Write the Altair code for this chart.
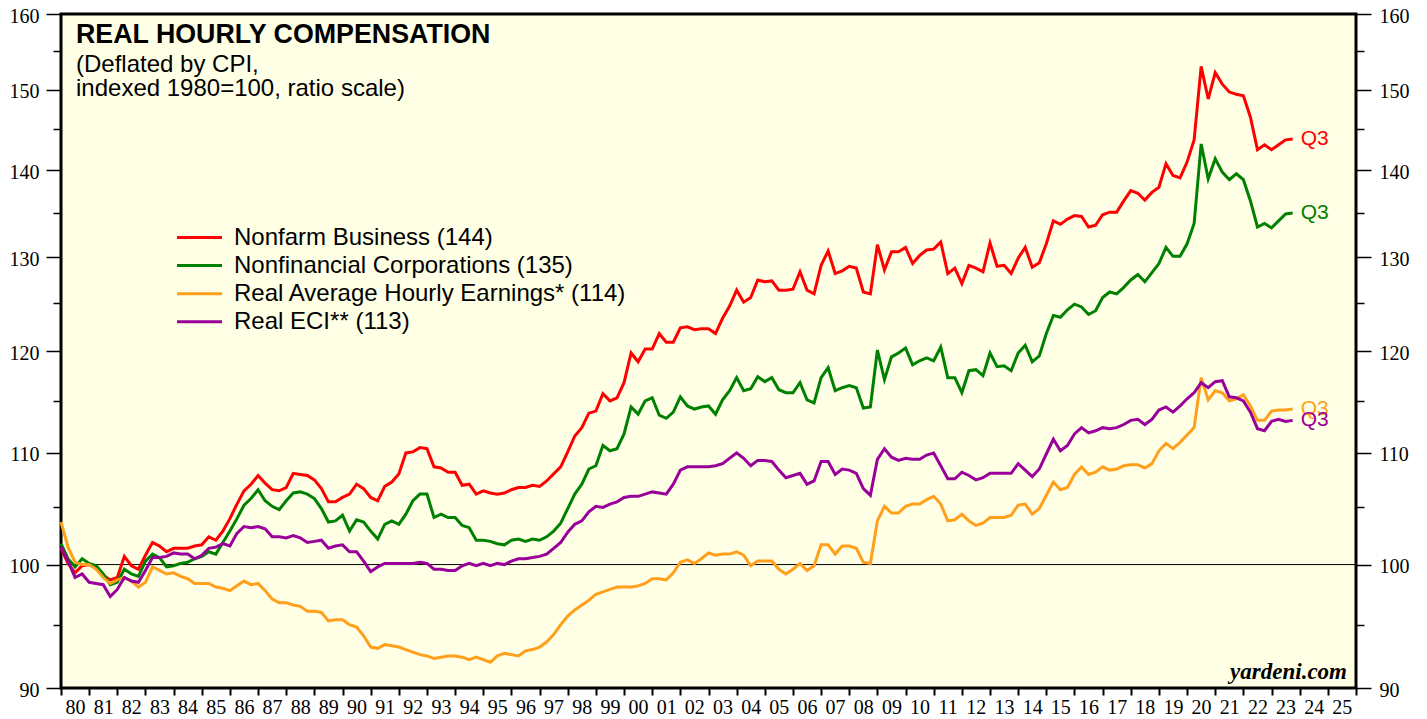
import altair as alt
import pandas as pd

# ---------------- data ----------------
SERIES = [
    "Nonfarm Business (144)",
    "Nonfinancial Corporations (135)",
    "Real Average Hourly Earnings* (114)",
    "Real ECI** (113)",
]
COLORS = ["#FF0000", "#008000", "#FF9F1C", "#990099"]
END_LABEL = "Q3"
FIRST_QUARTER = (1979, 4)   # quarters plotted at quarter end

nonfarm = [
    101.4, 100.1, 99.3, 99.9, 100.0, 99.8, 99.1, 98.7, 98.9, 100.7, 99.9, 99.6,
    100.8, 101.9, 101.6, 101.1, 101.4, 101.4, 101.4, 101.6, 101.7, 102.4, 102.1, 102.9,
    104.0, 105.3, 106.5, 107.1, 107.9, 107.2, 106.6, 106.5, 106.8, 108.1, 108.0, 107.9,
    107.5, 106.7, 105.5, 105.5, 105.9, 106.2, 107.1, 106.7, 105.9, 105.6, 106.9, 107.3,
    108.05, 110.0, 110.1, 110.5, 110.4, 108.7, 108.6, 108.2, 108.2, 107.0, 107.1, 106.2,
    106.5, 106.3, 106.2, 106.3, 106.6, 106.8, 106.8, 107.0, 106.9, 107.4, 108.05, 108.7,
    110.1, 111.6, 112.4, 113.8, 114.0, 115.7, 115.0, 115.3, 116.8, 119.8, 118.9, 120.2,
    120.2, 121.8, 120.9, 120.9,
    122.4, 122.5, 122.2, 122.3, 122.3, 121.8, 123.4, 124.7, 126.4, 125.1, 125.6, 127.5,
    127.3, 127.4, 126.4, 126.4, 126.5, 128.4, 126.4, 126.0, 129.1, 130.7, 128.2, 128.5,
    129.0, 128.8, 126.2, 126.0, 131.4, 128.6, 130.6, 130.6, 131.1, 129.3, 130.2, 130.8,
    130.9, 131.7, 128.2, 128.8, 127.1, 129.1, 128.8, 128.4, 131.6, 129.0, 129.1, 128.2,
    129.9,
    131.1, 128.9, 129.4, 131.5, 134.1, 133.7, 134.3, 134.7, 134.6, 133.4, 133.6, 134.8,
    135.1, 135.1, 136.4, 137.6, 137.3, 136.5, 137.4, 138.0, 140.8, 139.4, 139.1, 141.0,
    143.7, 153.0, 148.8, 152.2, 150.7, 149.7, 149.4, 149.2, 146.5, 142.5, 143.1, 142.5,
    143.1, 143.7, 143.8,
]

nonfin = [
    101.8, 100.5, 99.8, 100.5, 100.1, 99.9, 99.2, 98.3, 98.5, 99.6, 99.2, 99.0,
    100.3, 100.9, 100.6, 99.8, 99.9, 100.1, 100.2, 100.5, 100.7, 101.1, 100.9, 101.9,
    102.9, 104.0, 105.2, 105.8, 106.6, 105.6, 105.1, 104.8, 105.6, 106.3, 106.4, 106.2,
    105.8, 104.9, 103.7, 103.8, 104.3, 102.9, 103.9, 103.7, 102.9, 102.2, 103.5, 103.8,
    103.5, 104.4, 105.6, 106.2, 106.2, 104.1, 104.4, 104.1, 104.1, 103.4, 103.2, 102.1,
    102.1, 102.0, 101.8, 101.7, 102.1, 102.2, 102.0, 102.2, 102.1, 102.4, 102.9, 103.6,
    104.9, 106.2, 107.1, 108.5, 108.8, 110.7, 110.2, 110.4, 111.8, 114.4, 113.7, 115.0,
    115.3, 113.6, 113.3, 113.9,
    115.4, 114.5, 114.2, 114.4, 114.5, 113.7, 115.1, 116.0, 117.3, 116.0, 116.2, 117.4,
    116.9, 117.3, 116.1, 115.8, 115.8, 116.8, 115.1, 114.8, 117.3, 118.3, 116.0, 116.3,
    116.5, 116.3, 114.3, 114.4, 120.1, 117.1, 119.4, 119.8, 120.3, 118.6, 119.0, 119.3,
    119.0, 120.4, 117.3, 117.3, 115.8, 118.0, 118.1, 117.5, 119.8, 118.4, 118.5, 118.0,
    119.8,
    120.6, 118.9, 119.5, 121.8, 123.7, 123.5, 124.3, 124.9, 124.6, 123.8, 124.2, 125.6,
    126.2, 126.0, 126.7, 127.5, 128.1, 127.3, 128.3, 129.3, 131.1, 130.1, 130.1, 131.5,
    133.8, 143.2, 139.0, 141.4, 139.8, 138.9, 139.6, 138.9, 136.4, 133.4, 133.8, 133.3,
    134.1, 134.9, 135.0,
]

ahe = [
    103.7, 101.5, 100.2, 100.0, 100.0, 99.6, 98.9, 98.4, 98.7, 98.9, 98.6, 98.1,
    98.5, 99.8, 99.5, 99.2, 99.3, 99.0, 98.8, 98.4, 98.4, 98.4, 98.1, 98.0,
    97.8, 98.2, 98.6, 98.3, 98.4, 97.8, 97.1, 96.8, 96.8, 96.6, 96.5, 96.1,
    96.1, 96.0, 95.3, 95.4, 95.4, 95.0, 94.8, 94.1, 93.2, 93.1, 93.4, 93.3,
    93.2, 93.0, 92.8, 92.6, 92.5, 92.3, 92.4, 92.5, 92.5, 92.4, 92.2, 92.4,
    92.2, 92.0, 92.5, 92.7, 92.6, 92.5, 92.9, 93.0, 93.2, 93.6, 94.2, 95.0,
    95.7, 96.2, 96.6, 97.0, 97.5, 97.7, 97.9, 98.1, 98.1, 98.1, 98.2, 98.4,
    98.8, 98.8, 98.7, 99.3,
    100.2, 100.4, 100.1, 100.5, 101.0, 100.8, 100.9, 100.9, 101.1, 100.8, 99.9, 100.3,
    100.3, 100.3, 99.6, 99.2, 99.6, 100.1, 99.5, 99.9, 101.7, 101.7, 100.9, 101.6,
    101.6, 101.4, 100.2, 100.1, 103.8, 105.1, 104.5, 104.5, 105.1, 105.3, 105.3, 105.7,
    106.0, 105.3, 103.8, 103.9, 104.4, 103.8, 103.4, 103.6, 104.1, 104.1, 104.1, 104.3,
    105.2,
    105.3, 104.4, 104.9, 106.1, 107.3, 106.6, 106.8, 108.0, 108.7, 108.0, 108.2, 108.7,
    108.4, 108.5, 108.8, 108.9, 108.9, 108.6, 109.0, 110.2, 110.9, 110.4, 111.0, 111.7,
    112.4, 117.3, 115.1, 116.0, 115.8, 115.0, 115.2, 115.6, 114.5, 113.1, 113.1, 114.0,
    114.1, 114.1, 114.2,
]

eci = [
    101.5, 100.3, 98.9, 99.2, 98.5, 98.4, 98.3, 97.3, 97.9, 98.9, 98.6, 98.5,
    99.5, 100.6, 100.6, 100.7, 101.0, 100.9, 100.9, 100.5, 100.8, 101.4, 101.5, 101.8,
    101.6, 102.7, 103.3, 103.2, 103.3, 103.1, 102.4, 102.4, 102.3, 102.5, 102.3, 101.9,
    102.0, 102.1, 101.4, 101.6, 101.7, 101.1, 101.1, 100.3, 99.4, 99.8, 100.1, 100.1,
    100.1, 100.1, 100.1, 100.2, 100.1, 99.6, 99.6, 99.5, 99.5, 99.9, 100.1, 99.9,
    100.1, 99.9, 100.1, 100.0, 100.3, 100.5, 100.5, 100.6, 100.7, 100.9, 101.4, 101.9,
    102.8, 103.5, 103.8, 104.6, 105.1, 105.0, 105.3, 105.5, 105.9, 106.0, 106.0, 106.2,
    106.4, 106.3, 106.2, 107.1,
    108.4, 108.7, 108.7, 108.7, 108.7, 108.8, 109.0, 109.5, 110.0, 109.5, 108.8, 109.3,
    109.3, 109.2, 108.4, 107.7, 107.9, 108.1, 107.1, 107.4, 109.2, 109.2, 108.0, 108.5,
    108.4, 108.1, 106.7, 106.1, 109.4, 110.4, 109.6, 109.3, 109.5, 109.4, 109.4, 109.8,
    110.0, 108.8, 107.6, 107.6, 108.2, 107.9, 107.5, 107.7, 108.1, 108.1, 108.1, 108.1,
    109.0,
    108.4, 107.8, 108.5, 109.9, 111.3, 110.2, 110.7, 111.8, 112.4, 111.9, 112.1, 112.4,
    112.3, 112.4, 112.7, 113.1, 113.2, 112.7, 113.2, 114.1, 114.4, 113.9, 114.5, 115.2,
    115.8, 116.8, 116.3, 116.9, 117.0, 115.4, 115.3, 115.0, 113.9, 112.3, 112.1, 113.0,
    113.2, 113.0, 113.1,
]

X_TICK_YEARS = list(range(1980, 2027))
Y_TICK_VALUES = [90, 95, 100, 105, 110, 115, 120, 125, 130, 135, 140, 145, 150, 155, 160]
TITLE = "REAL HOURLY COMPENSATION"
SUBTITLE = "(Deflated by CPI,\nindexed 1980=100, ratio scale)"
WATERMARK = "yardeni.com"

# ---------------- build table ----------------
def quarter_ends(n, start):
    y, q = start
    out = []
    for _ in range(n):
        out.append(y + q / 4.0)
        q += 1
        if q > 4:
            q = 1
            y += 1
    return out

rows = []
for name, col, vals in zip(SERIES, COLORS, [nonfarm, nonfin, ahe, eci]):
    ts = quarter_ends(len(vals), FIRST_QUARTER)
    for t, v in zip(ts, vals):
        rows.append({"t": t, "value": v, "series": name, "hex": col})
df = pd.DataFrame(rows)
last = df.groupby("series", sort=False).tail(1).copy()
last["lab"] = END_LABEL

W, H = 1295, 674
x_scale = alt.Scale(domain=[1980, 2026], nice=False, zero=False)
y_scale = alt.Scale(type="log", domain=[90, 160], nice=False, zero=False)

x_axis = alt.Axis(
    values=X_TICK_YEARS, format="d",
    labelExpr="datum.value >= 2026 ? '' : slice(datum.label, 2)",
    labelOffset=14, labelFont="Liberation Serif", labelFontSize=20, labelColor="black",
    tickColor="black", tickSize=7, tickWidth=2, domain=False, grid=False,
    labelPadding=2, labelFlush=False, labelOverlap=False, labelBound=False, title=None,
)

def y_axis(orient, pad):
    return alt.Axis(
        orient=orient, values=Y_TICK_VALUES, format="d",
        labelExpr="datum.value % 10 === 0 ? datum.label : ''",
        tickSize={"condition": {"test": "datum.value % 10 === 0", "value": 15}, "value": 8},
        tickColor="black", tickWidth=1.5, domain=False, grid=False,
        labelFont="Liberation Serif", labelFontSize=20, labelColor="black", labelOffset=2,
        labelPadding=pad, labelOverlap=False, labelFlush=False, labelBound=False, title=None,
    )

legend = alt.Legend(
    orient="none", legendX=126.5, legendY=211.5, title=None,
    symbolType="M-2.25,0H2.25", symbolSize=400, symbolStrokeWidth=3,
    labelFont="Liberation Sans", labelFontSize=24, labelColor="black",
    rowPadding=4.1, labelOffset=22.5, padding=0, labelLimit=0,
)

lines = alt.Chart(df).mark_line(strokeWidth=3).encode(
    x=alt.X("t:Q", scale=x_scale, axis=x_axis),
    y=alt.Y("value:Q", scale=y_scale, axis=y_axis("left", 7)),
    color=alt.Color("series:N", scale=alt.Scale(domain=SERIES, range=COLORS), legend=legend),
    detail="series:N",
)

rule = alt.Chart(pd.DataFrame({"v": [100]})).mark_rule(color="black", strokeWidth=1).encode(
    y=alt.Y("v:Q", scale=y_scale, axis=y_axis("right", 8)),
)

q3 = alt.Chart(last).mark_text(
    align="left", baseline="middle", dx=8, fontSize=21, font="Liberation Sans"
).encode(
    x=alt.X("t:Q", scale=x_scale, axis=x_axis),
    y=alt.Y("value:Q", scale=y_scale, axis=None),
    color=alt.Color("hex:N", scale=None),
    text="lab:N",
)

title = alt.Chart(pd.DataFrame({"s": [TITLE]})).mark_text(
    align="left", baseline="alphabetic", fontSize=26.8, fontWeight="bold", font="Liberation Sans", color="black"
).encode(x=alt.value(15), y=alt.value(29.3), text="s:N")

subtitle = alt.Chart(pd.DataFrame({"s": [SUBTITLE]})).mark_text(
    align="left", baseline="alphabetic", fontSize=24, font="Liberation Sans", color="black",
    lineBreak="\n", lineHeight=24,
).encode(x=alt.value(15), y=alt.value(57.5), text="s:N")

mark = alt.Chart(pd.DataFrame({"s": [WATERMARK]})).mark_text(
    align="right", baseline="alphabetic", fontSize=23, fontWeight="bold", fontStyle="italic",
    font="Liberation Serif", color="black",
).encode(x=alt.value(1286), y=alt.value(665), text="s:N")

chart = alt.layer(rule, lines, q3, title, subtitle, mark).resolve_axis(y="independent").properties(
    width=W, height=H,
    padding={"left": 53, "top": 6, "right": 63, "bottom": 31},
    autosize=alt.AutoSizeParams(type="none"),
    background="white",
).configure_view(stroke="black", strokeWidth=3, fill="#FFFFE5")

chart.save("out.html", embed_options={"renderer": "svg", "actions": False})
